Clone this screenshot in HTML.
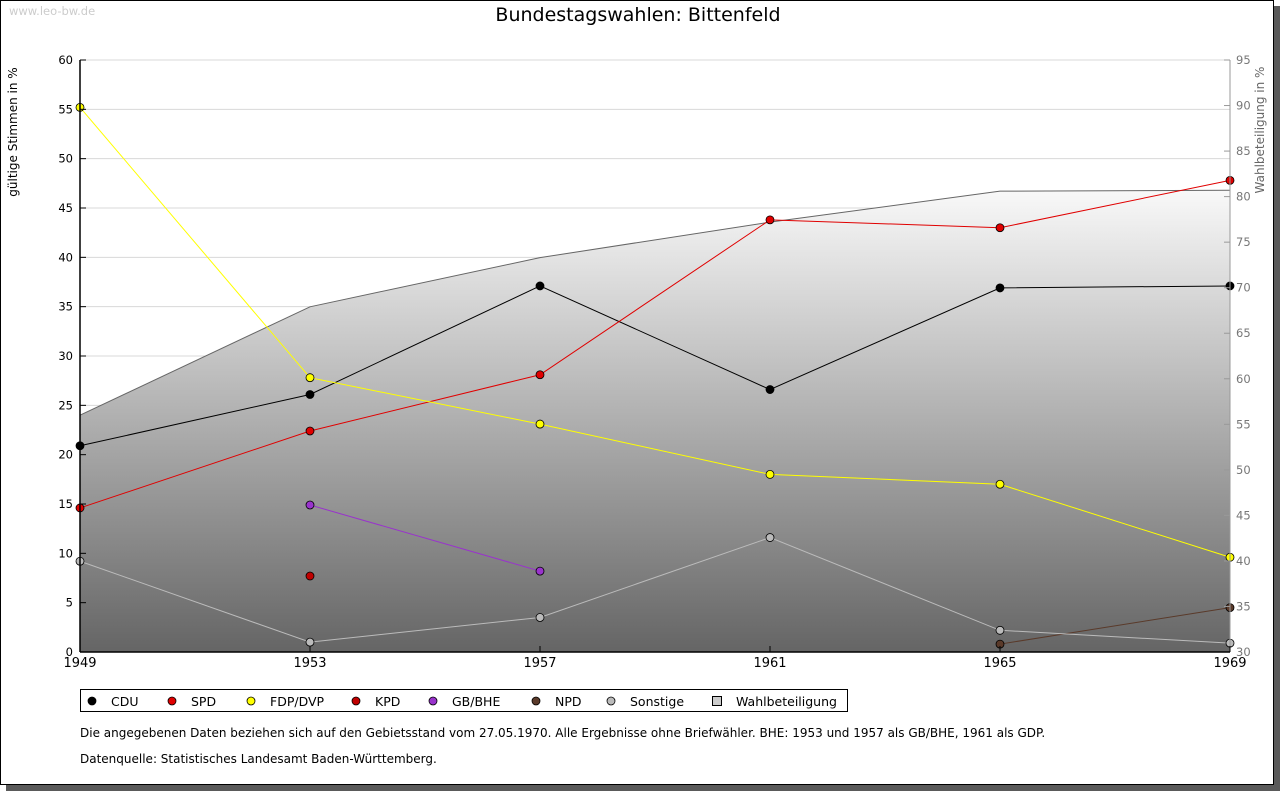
<!DOCTYPE html>
<html><head><meta charset="utf-8"><style>
body{margin:0;background:#fff;}
svg{display:block;font-family:"DejaVu Sans","Liberation Sans",sans-serif;}
</style></head><body>
<svg id="chart" width="1280" height="791" xmlns="http://www.w3.org/2000/svg">
<defs><linearGradient id="g" gradientUnits="userSpaceOnUse" x1="0" y1="170" x2="0" y2="652"><stop offset="0" stop-color="#ffffff"/><stop offset="1" stop-color="#656565"/></linearGradient></defs>
<rect x="6" y="6" width="1274" height="785" fill="#5a5a5a"/>
<rect x="0.5" y="0.5" width="1273" height="784" fill="#fff" stroke="#000"/>
<text x="9" y="15" font-size="11.5" fill="#ccc">www.leo-bw.de</text>
<text x="638" y="21" font-size="19" text-anchor="middle">Bundestagswahlen: Bittenfeld</text>
<text transform="translate(17,132) rotate(-90)" font-size="12" text-anchor="middle">gültige Stimmen in %</text>
<text transform="translate(1264,130) rotate(-90)" font-size="12" fill="#666" text-anchor="middle">Wahlbeteiligung in %</text>
<g id="grid"></g><g id="area"></g><g id="series"></g><g id="axes"></g>
<g id="legend">
<rect x="80.5" y="689.5" width="767" height="22" fill="#fff" stroke="#000"/>
</g>
<text x="80" y="737" font-size="12">Die angegebenen Daten beziehen sich auf den Gebietsstand vom 27.05.1970. Alle Ergebnisse ohne Briefwähler. BHE: 1953 und 1957 als GB/BHE, 1961 als GDP.</text>
<text x="80" y="763" font-size="12">Datenquelle: Statistisches Landesamt Baden-Württemberg.</text>
</svg>
<script>
const years=[1949,1953,1957,1961,1965,1969];
const cdu=[20.9,26.1,37.1,26.6,36.9,37.1];
const spd=[14.6,22.4,28.1,43.8,43.0,47.8];
const fdp=[55.2,27.8,23.1,18.0,17.0,9.6];
const kpd=[null,7.7,null,null,null,null];
const bhe=[null,14.9,8.2,null,null,null];
const npd=[null,null,null,null,0.8,4.5];
const sonst=[9.2,1.0,3.5,11.6,2.2,0.9];
const turnout=[56.0,67.9,73.3,77.2,80.6,80.7];
const leftTicks=[0,5,10,15,20,25,30,35,40,45,50,55,60];
const rightTicks=[30,35,40,45,50,55,60,65,70,75,80,85,90,95];
const NS="http://www.w3.org/2000/svg";
const X=i=>80+(1230-80)*(years[i]-years[0])/(years[years.length-1]-years[0]);
const Y=v=>652-(v-0)*(592/60);
const Y2=v=>652-(v-30)*(592/65);
function mk(p,t,a){const e=document.createElementNS(NS,t);for(const k in a)e.setAttribute(k,a[k]);p.appendChild(e);return e;}
const grid=document.getElementById('grid'),area=document.getElementById('area'),ser=document.getElementById('series'),axes=document.getElementById('axes');
leftTicks.forEach(v=>{
 const l=mk(grid,'line',{x1:80,x2:1230,y1:Y(v),y2:Y(v),stroke:'#d8d8d8'});
 
 
 const t=mk(axes,'text',{x:73,y:Y(v)+4,'font-size':11.5,'text-anchor':'end'});t.textContent=v;
 
 
 mk(axes,'line',{x1:80,x2:86,y1:Y(v),y2:Y(v),stroke:'#000'});
});
rightTicks.forEach(v=>{
 const t=mk(axes,'text',{x:1236,y:Y2(v)+4,'font-size':11.5,fill:'#777'});t.textContent=v;
 
 
 mk(axes,'line',{x1:1224,x2:1230,y1:Y2(v),y2:Y2(v),stroke:'#999'});
});
let d='M'+X(0)+','+652;turnout.forEach((v,i)=>d+=' L'+X(i)+','+Y2(v));d+=' L'+X(5)+',652 Z';
const ar=mk(area,'path',{d:d,fill:'url(#g)'});


const al=mk(area,'polyline',{points:turnout.map((v,i)=>X(i)+','+Y2(v)).join(' '),fill:'none',stroke:'#666'});


mk(axes,'line',{x1:80,x2:80,y1:60,y2:652,stroke:'#000','stroke-width':1.5});
mk(axes,'line',{x1:1230,x2:1230,y1:60,y2:652,stroke:'#999'});
mk(axes,'line',{x1:80,x2:1230,y1:652,y2:652,stroke:'#000','stroke-width':1.5});
years.forEach((y,i)=>{
 mk(axes,'line',{x1:X(i),x2:X(i),y1:646,y2:652,stroke:'#000'});
 const t=mk(axes,'text',{x:X(i),y:667,'font-size':13,'text-anchor':'middle'});t.textContent=y;
 
 
});
const S=[['cdu',cdu,'#000','#000'],['spd',spd,'#e00000','#e00000'],['fdp',fdp,'#ffff00','#ffff00'],['kpd',kpd,'#c00000','#c00000'],['bhe',bhe,'#9933cc','#9933cc'],['npd',npd,'#5a3a2a','#5a3a2a'],['sonstige',sonst,'#bbb','#bbb']];
S.forEach(([n,arr,lc,fc])=>{
 const pts=arr.map((v,i)=>v==null?null:[X(i),Y(v)]).filter(p=>p);
 if(pts.length>1){const pl=mk(ser,'polyline',{points:pts.map(p=>p.join(',')).join(' '),fill:'none',stroke:lc});
 
 }
 pts.forEach(p=>{const c=mk(ser,'circle',{cx:p[0],cy:p[1],r:4,fill:fc,stroke:'#000','stroke-width':0.8});
 
 });
});
const leg=document.getElementById('legend');
const L=[['CDU','#000',92],['SPD','#e00000',172],['FDP/DVP','#ffff00',251],['KPD','#c00000',356],['GB/BHE','#9933cc',433],['NPD','#5a3a2a',536],['Sonstige','#bbb',611]];
L.forEach(([t,c,x])=>{
 const g=mk(leg,'g',{});
 
 
 mk(g,'circle',{cx:x,cy:701,r:4,fill:c,stroke:'#000','stroke-width':0.8});
 const tx=mk(g,'text',{x:x+19,y:706,'font-size':12.5});tx.textContent=t;
});
const g=mk(leg,'g',{});


mk(g,'rect',{x:712.5,y:696.5,width:9,height:9,fill:'#ccc',stroke:'#000'});
const tx=mk(g,'text',{x:736,y:706,'font-size':12.5});tx.textContent='Wahlbeteiligung';
</script>
</body></html>
